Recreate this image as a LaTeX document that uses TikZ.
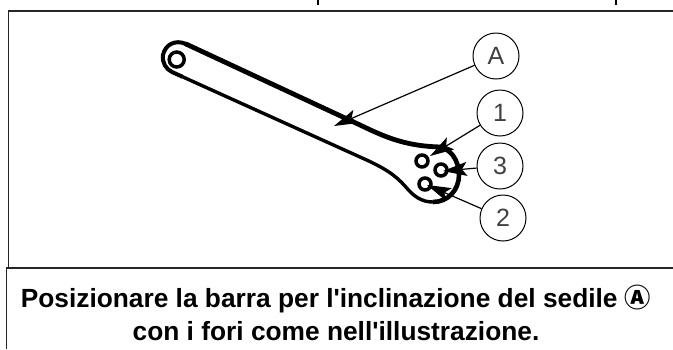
\documentclass[tikz,border=0pt]{standalone}
\usepackage{fontspec}
\setmainfont{Liberation Sans}
\newfontfamily\capfont{Liberation Sans}
\newfontfamily\symfont{Noto Sans CJK KR}
\usetikzlibrary{arrows.meta}
\tikzset{
  callout/.style={draw=black,line width=1pt,circle,minimum size=46pt,inner sep=0pt,font=\fontsize{25}{27}\selectfont,text=black!75},
  leader/.style={line width=1.2pt,-{Stealth[length=24pt,width=14pt,inset=5pt]}},
  frame/.style={line width=1.8pt,black!85},
  hole/.style={draw=black,line width=3.5pt,circle,inner sep=0pt,minimum size=12pt,fill=white},
  caption/.style={font=\capfont\fontsize{26.3}{33}\selectfont\bfseries,align=center,inner sep=0pt}
}
\begin{document}
\begin{tikzpicture}[x=1pt,y=-1pt]
\useasboundingbox (0,0) rectangle (673,349);
% frame
\draw[frame] (673,11) -- (8.5,11) -- (8.5,268);
\draw[frame] (6.5,349) -- (6.5,268) -- (673,268);
% clipped text remnants at the top
\draw[line width=1.3pt] (318,0) -- (318,5);
\draw[line width=1.3pt] (616,0) -- (616,5);
% bar
\draw[line width=4.8pt,line cap=round] (186,44) -- (360,125) .. controls (385,137) and (405,146) .. (440,147);
\draw[line width=4pt] (186,44) .. controls (175,39) and (165,45) .. (163,55) .. controls (162,63) and (166,69) .. (172,72) -- (183,77);
\draw[line width=3.4pt] (183,77) -- (360,157) .. controls (385,168) and (395,175) .. (405,186) .. controls (414,197) and (422,202) .. (433,202);
\draw[line width=4.6pt] (433,202) .. controls (448,202) and (459,190) .. (459,175) .. controls (459,160) and (450,147) .. (437,147);
\node[hole,minimum size=15pt] (eye) at (176.7,59.5) {};
\node[hole] (h1) at (422,161) {};
\node[hole] (h3) at (441,170) {};
\node[hole] (h2) at (425,184) {};
% callouts
\node[callout] (A) at (496,56) {A};
\node[callout] (n1) at (500,113) {1};
\node[callout] (n3) at (500,166) {3};
\node[callout] (n2) at (503,218) {2};
\coordinate (ta) at (334,126);
\coordinate (t1) at (430,156);
\coordinate (t3) at (443,171);
\coordinate (t2) at (427,185);
\draw[leader] (A) -- (ta);
\draw[leader] (n1) -- (t1);
\draw[leader] (n3) -- (t3);
\draw[leader] (n2) -- (t2);
% caption
\node[caption] (cap) at (336,313) {Posizionare la barra per l'inclinazione del sedile {\symfont\bfseries Ⓐ}\\con i fori come nell'illustrazione.};
\end{tikzpicture}
\end{document}
